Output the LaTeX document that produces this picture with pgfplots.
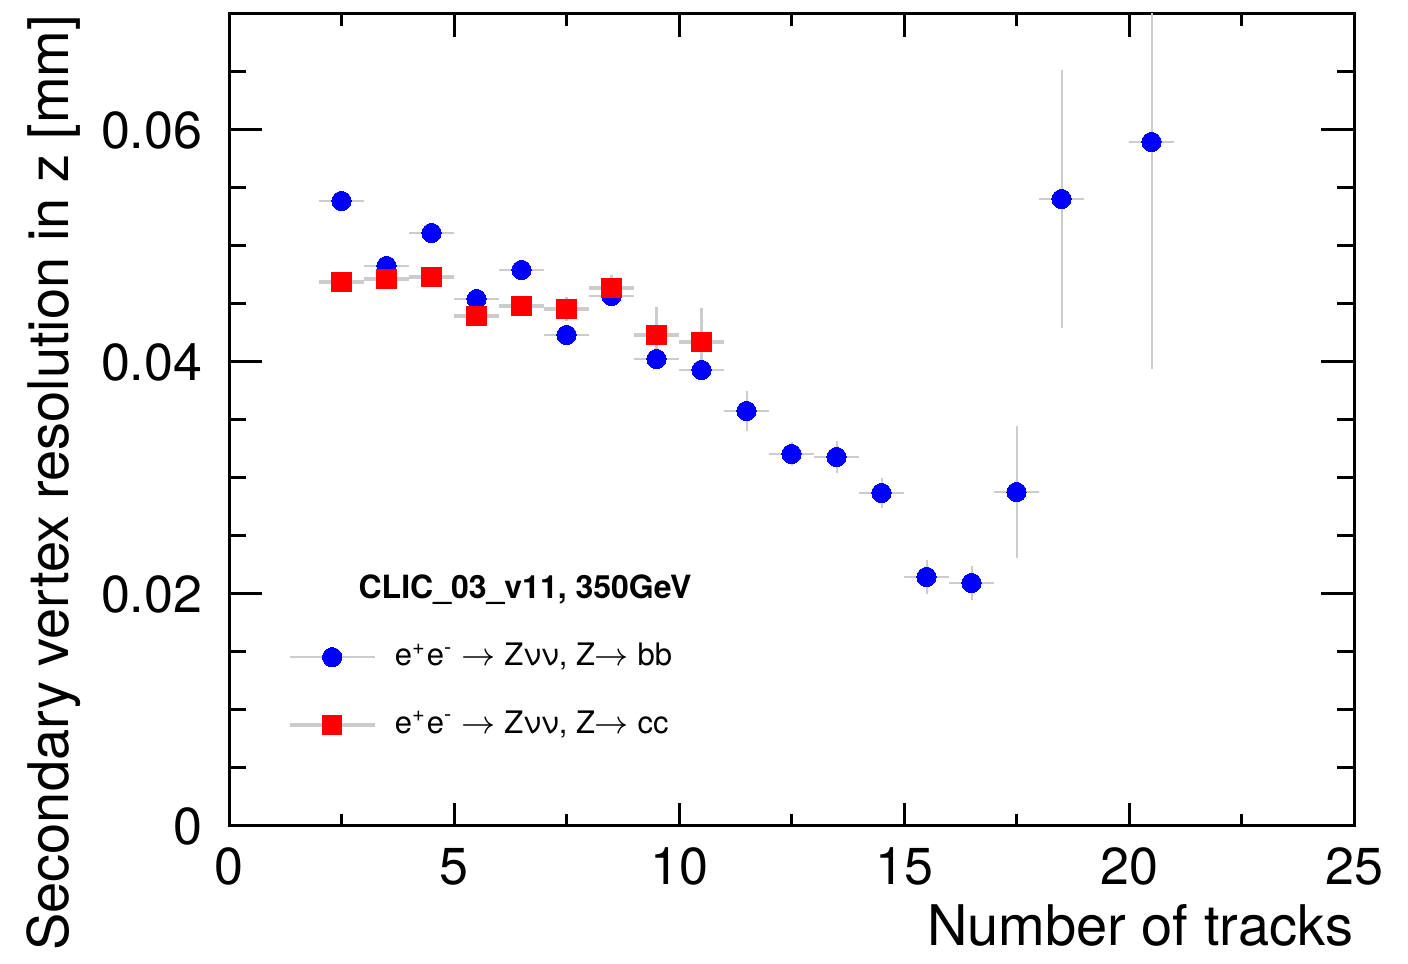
\documentclass[border=0pt]{standalone}
\usepackage{fontspec}
\setmainfont{TeX Gyre Heros}
\usepackage{pgfplots}
\pgfplotsset{compat=1.18}
\pgfplotstableread{
x    y       ex   ey
2.5  0.05388 0.5  0.0007
3.5  0.04828 0.5  0.0007
4.5  0.05112 0.5  0.0007
5.5  0.04543 0.5  0.0007
6.5  0.04793 0.5  0.0007
7.5  0.04233 0.5  0.0007
8.5  0.04569 0.5  0.0007
9.5  0.04026 0.5  0.0007
10.5 0.03931 0.5  0.0007
11.5 0.03578 0.5  0.0017
12.5 0.03207 0.5  0.0010
13.5 0.03181 0.5  0.0014
14.5 0.02871 0.5  0.0013
15.5 0.02147 0.5  0.0015
16.5 0.02095 0.5  0.0015
17.5 0.02879 0.5  0.0057
18.5 0.05405 0.5  0.0111
20.5 0.05897 0.5  0.0196
}\bbdata
\pgfplotstableread{
x    y       ex   ey
2.5  0.04690 0.5  0.0006
3.5  0.04716 0.5  0.0006
4.5  0.04733 0.5  0.0006
5.5  0.04397 0.5  0.0009
6.5  0.04483 0.5  0.0009
7.5  0.04457 0.5  0.0010
8.5  0.04638 0.5  0.0011
9.5  0.04233 0.5  0.0024
10.5 0.04172 0.5  0.0029
}\ccdata
\begin{document}
\begin{tikzpicture}
\begin{axis}[
  scale only axis, width=281.25pt, height=203pt,
  xmin=0, xmax=25, ymin=0, ymax=0.07,
  xtick={0,5,10,15,20,25}, xticklabels={0,5,10,15,20,25},
  minor xtick={2.5,7.5,12.5,17.5,22.5},
  ytick={0,0.02,0.04,0.06}, yticklabels={0,0.02,0.04,0.06},
  minor ytick={0.005,0.01,0.015,0.025,0.03,0.035,0.045,0.05,0.055,0.065},
  scaled y ticks=false, scaled x ticks=false,
  tick align=inside, tick pos=both,
  axis line style={line width=0.75pt},
  every tick/.style={black, line width=0.75pt},
  major tick length=8.3pt, minor tick length=4.2pt,
  xtick style={/pgfplots/major tick length=5.8pt,/pgfplots/minor tick length=3pt},
  ticklabel style={font=\fontsize{13}{15}\selectfont},
  xticklabel style={anchor=base, yshift=-14.75pt},
  yticklabel style={anchor=east, inner sep=0pt, xshift=-6.5pt},
  xlabel={Number of tracks},
  ylabel={Secondary vertex resolution in z [mm]},
  label style={font=\fontsize{14}{16}\selectfont, inner sep=0pt},
  xlabel style={at={(rel axis cs:1,-0.1466)}, anchor=base east},
  ylabel style={at={(rel axis cs:-0.1431,1)}, anchor=base east},
  legend style={at={(axis cs:1.29,0.01164)}, anchor=west, draw=none, fill=none,
    inner sep=0pt, row sep=5.75pt, font=\fontsize{7.75}{9.3}\selectfont,
    /tikz/every odd column/.append style={column sep=2.6pt}},
  legend cell align=left,
]
\addplot[forget plot, only marks, mark=*, mark size=2.4pt, blue, mark options={fill=blue, draw=blue, line width=0pt},
  error bars/.cd, x dir=both, x explicit, y dir=both, y explicit, error mark=none,
  error bar style={black!20, line width=0.5pt}]
  table[x=x, y=y, x error=ex, y error=ey] {\bbdata};
\addplot[forget plot, only marks, mark=square*, mark size=2.4pt, red, mark options={fill=red, draw=red, line width=0pt},
  error bars/.cd, x dir=both, x explicit, y dir=both, y explicit, error mark=none,
  error bar style={black!20, line width=0.9pt}]
  table[x=x, y=y, x error=ex, y error=ey] {\ccdata};
\addlegendimage{legend image code/.code={%
  \draw[black!20, line width=0.4pt] (0pt,0pt) -- (21.25pt,0pt);
  \draw[blue] plot[mark=*, mark size=2.4pt, mark options={fill=blue, draw=blue, line width=0pt}] coordinates {(10.625pt,0pt)};}}
\addlegendentry{e\textsuperscript{+}e\textsuperscript{-} $\rightarrow$ Zνν, Z$\rightarrow$ bb}
\addlegendimage{legend image code/.code={%
  \draw[black!20, line width=0.9pt] (0pt,0pt) -- (21.25pt,0pt);
  \draw[red] plot[mark=square*, mark size=2.4pt, mark options={fill=red, draw=red, line width=0pt}] coordinates {(10.625pt,0pt)};}}
\addlegendentry{e\textsuperscript{+}e\textsuperscript{-} $\rightarrow$ Zνν, Z$\rightarrow$ cc}
\node[font=\bfseries\fontsize{8}{9.6}\selectfont] at (axis cs:6.58,0.02034) {CLIC\_03\_v11, 350GeV};
\coordinate (bl) at (rel axis cs:0,0);
\coordinate (tr) at (rel axis cs:1,1);
\end{axis}
\pgfresetboundingbox
\path ([xshift=-57.25pt,yshift=-34.5pt]bl) rectangle ([xshift=13.5pt,yshift=3.5pt]tr);
\end{tikzpicture}
\end{document}
